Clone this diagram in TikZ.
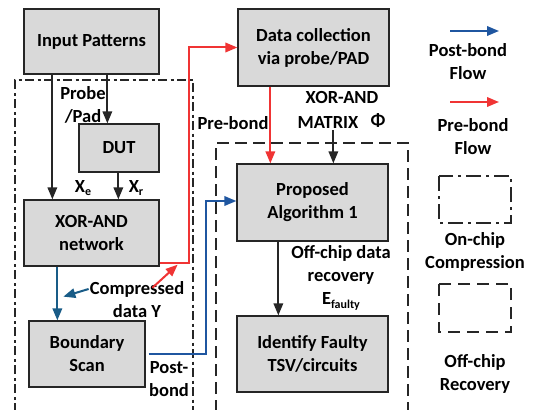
\documentclass[tikz,border=0pt]{standalone}
\usepackage{fontspec}
\setmainfont{Carlito}
\usetikzlibrary{arrows.meta,calc}

\definecolor{boxgray}{RGB}{217,217,217}
\definecolor{flowred}{RGB}{240,52,52}
\definecolor{flowblue}{RGB}{31,86,160}
\definecolor{tealblue}{RGB}{25,92,135}

\tikzset{
  blockbox/.style={draw=black!85, line width=1.3pt, fill=boxgray, inner sep=0pt,
    align=center, font=\bfseries\fontsize{18.5}{23}\selectfont},
  lbl/.style={inner sep=0pt, align=center, font=\bfseries\fontsize{18.5}{23}\selectfont},
  tip/.style={-{Triangle[length=12pt,width=9.5pt]}},
  blk/.style={tip, draw=black!85, line width=1.8pt},
  redflow/.style={tip, draw=flowred, line width=2pt},
  blueflow/.style={tip, draw=flowblue, line width=2pt},
  tealflow/.style={tip, draw=tealblue, line width=2pt},
  onchip/.style={draw=black!85, line width=2.8pt, dash pattern=on 9pt off 3.5pt on 3pt off 3.5pt},
  offchip/.style={draw=black!85, line width=2.8pt, dash pattern=on 12pt off 6pt},
}
\newcommand{\lowsub}[1]{\raisebox{-0.4ex}{\fontsize{12}{12}\selectfont #1}}

\begin{document}
\begin{tikzpicture}[x=1pt,y=-1pt]
\useasboundingbox (0,0) rectangle (534,409);

% region frames
\draw[onchip] (15,412) -- (15,80) -- (193,80) -- (193,412);
\draw[offchip] (216,412) -- (216,143) -- (408,143) -- (408,412);

% blocks
\node[blockbox, minimum width=135pt, minimum height=65pt] (inp) at (91.5,41.5) {Input Patterns};
\node[blockbox, minimum width=80pt, minimum height=48pt] (dut) at (119,148) {DUT};
\node[blockbox, minimum width=135pt, minimum height=66pt] (xor) at (91.5,233) {XOR-AND\\network};
\node[blockbox, minimum width=116pt, minimum height=66pt] (bs) at (87,354) {Boundary\\Scan};
\node[blockbox, minimum width=151pt, minimum height=77pt] (dc) at (313.5,47.5) {Data collection\\via probe/PAD};
\node[blockbox, minimum width=151pt, minimum height=77pt] (pa) at (312.5,202.5) {Proposed\\Algorithm 1};
\node[blockbox, minimum width=151pt, minimum height=76pt] (idf) at (312.5,354) {Identify Faulty\\TSV/circuits};

% labels
\node[lbl] (probe) at (83,105) {Probe\\/Pad};
\node[lbl] (xe) at (83,188) {X\lowsub{e}};
\node[lbl] (xr) at (136,188) {X\lowsub{r}};
\node[lbl] (cmp) at (137,300) {Compressed\\data Y};
\node[lbl] (pb) at (169,379) {Post-\\bond};
\node[lbl] (preb) at (233,123) {Pre-bond};
\node[lbl] (xam) at (342,97) {XOR-AND};
\node[lbl] (mtx) at (328,123) {MATRIX};
\node[lbl] (phi) at (378,121) {Φ};
\node[lbl] (ocr) at (341,278) {Off-chip data\\recovery\\E\lowsub{faulty}};

% black connectors
\draw[blk] ($(inp.south west)+(29,0)$) -- ($(xor.north west)+(29,0)$);
\draw[blk] ($(inp.south west)+(84,0)$) -- ($(dut.north west)+(29,0)$);
\draw[blk] ($(dut.south west)+(40,0)$) -- ($(xor.north west)+(95,0)$);
\draw[blk] ($(pa.north west)+(97,-33)$) coordinate (phisrc) -- ($(pa.north west)+(97,0)$);
\draw[blk] ($(pa.south west)+(42,0)$) -- ($(idf.north west)+(42,0)$);

% post-bond (blue) flow
\draw[tealflow] ($(xor.south west)+(34,0)$) -- ($(bs.north west)+(29,0)$);
\draw[tealflow] ($(cmp.west)+(-1,-11)$) -- ($(xor.south west)+(40,30)$);
\draw[blueflow] ($(bs.east)+(3,0)$) -- ++(57,0) |- ($(pa.west)+(0,-1.5)$);

% pre-bond (red) flow
\draw[redflow] ($(xor.south east)+(0,-4)$) -- ++(29,0) |- (dc.west);
\draw[redflow] ($(cmp.north east)+(-32,6)$) -- ($(xor.south east)+(18,-2)$);
\draw[redflow] ($(dc.south west)+(33,0)$) -- ($(pa.north west)+(34,0)$);

% legend
\coordinate (lb1) at (450,31);
\coordinate (lb2) at (499,31);
\draw[blueflow] (lb1) -- (lb2);
\node[lbl] (lbt) at (468,61.5) {Post-bond\\Flow};
\coordinate (lr1) at (450,102);
\coordinate (lr2) at (499,102);
\draw[redflow] (lr1) -- (lr2);
\node[lbl] (lrt) at (473,136.5) {Pre-bond\\Flow};
\draw[onchip, line width=2.2pt, dash pattern=on 15pt off 5pt on 3pt off 5pt] (439,176) rectangle (511,223);
\node[lbl] (lon) at (475,251.5) {On-chip\\Compression};
\draw[offchip, line width=2.2pt, dash pattern=on 12pt off 7pt] (439,284) rectangle (511,332);
\node[lbl] (loff) at (475,373.5) {Off-chip\\Recovery};
\end{tikzpicture}
\end{document}
